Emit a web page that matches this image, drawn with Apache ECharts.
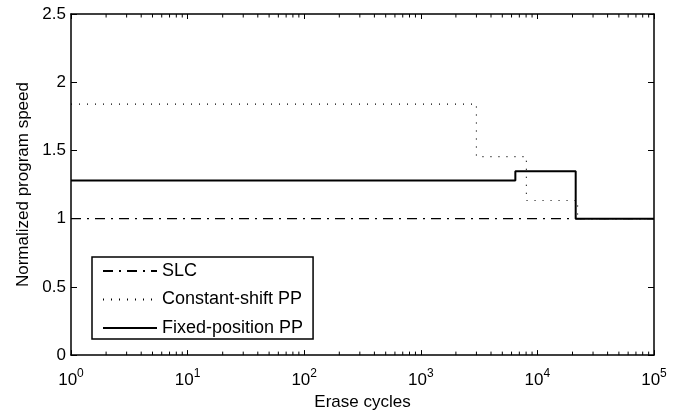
<!DOCTYPE html>
<html>
<head>
<meta charset="utf-8">
<script src="https://cdn.jsdelivr.net/npm/echarts@6/dist/echarts.min.js"></script>
<style>
  html, body { margin: 0; padding: 0; background: #fff; }
  #main { width: 678px; height: 416px; }
</style>
</head>
<body>
<div id="main"></div>
<script>
// step breakpoints (erase cycles) and levels
var slcX = [1, 100000];
var slcY = [1.0, 1.0];
var csX = [1, 3000, 8050, 22100, 100000];
var csY = [1.84, 1.455, 1.133, 1.0, 1.0];
var fpX = [1, 6470, 21300, 100000];
var fpY = [1.279, 1.347, 1.0, 1.0];
var yTicks = [0, 0.5, 1, 1.5, 2, 2.5];
var seriesNames = ['SLC', 'Constant-shift PP', 'Fixed-position PP'];

// minor ticks of the log axis (2..9 in every decade)
var minorTicks = [];
[1, 10, 100, 1000, 10000].forEach(function (d) {
    [2, 3, 4, 5, 6, 7, 8, 9].forEach(function (m) { minorTicks.push(d * m); });
});

function pairs(xs, ys) {
    return xs.map(function (x, i) { return [x, ys[i]]; });
}

var font = 'Liberation Sans, Arial, Helvetica, sans-serif';

document.addEventListener('DOMContentLoaded', function () {
    var myChart = echarts.init(document.getElementById('main'));

    var baseX = {
        type: 'log',
        logBase: 10,
        min: 1,
        max: 100000,
        axisLine: { show: true, onZero: false, lineStyle: { color: '#000', width: 1.5 } },
        axisTick: { show: true, inside: true, length: 5, lineStyle: { color: '#000', width: 1 } },
        splitLine: { show: false }
    };
    var baseY = {
        type: 'value',
        min: 0,
        max: 2.5,
        interval: 0.5,
        axisLine: { show: true, onZero: false, lineStyle: { color: '#000', width: 1.5 } },
        axisTick: { show: true, inside: true, length: 6, lineStyle: { color: '#000', width: 1 } },
        splitLine: { show: false }
    };

    var option = {
        animation: false,
        backgroundColor: '#fff',
        textStyle: { fontFamily: font, color: '#000' },
        grid: { left: 71, right: 24, top: 14, bottom: 60 },
        legend: {
            data: seriesNames,
            orient: 'vertical',
            left: 92,
            top: 257,
            itemWidth: 54,
            itemHeight: 14,
            itemGap: 10.5,
            padding: [5, 10, 2, 10],
            backgroundColor: '#fff',
            borderColor: '#000',
            borderWidth: 1.5,
            borderRadius: 0,
            itemStyle: { color: 'transparent', borderColor: 'transparent', borderWidth: 0 },
            textStyle: { fontFamily: font, fontSize: 18, color: '#000' }
        },
        xAxis: [
            Object.assign({}, baseX, {
                position: 'bottom',
                name: 'Erase cycles',
                nameLocation: 'middle',
                nameGap: 36,
                nameTextStyle: { fontFamily: font, fontSize: 17, color: '#000' },
                axisLabel: {
                    margin: 13,
                    color: '#000',
                    formatter: function (v) {
                        return '{b|10}{s|' + Math.round(Math.log10(v)) + '}';
                    },
                    rich: {
                        b: { fontFamily: font, fontSize: 17, color: '#000' },
                        s: { fontFamily: font, fontSize: 12, color: '#000', padding: [0, 0, 13, 0] }
                    }
                }
            }),
            Object.assign({}, baseX, { position: 'top', axisLabel: { show: false } })
        ],
        yAxis: [
            Object.assign({}, baseY, {
                position: 'left',
                name: 'Normalized program speed',
                nameLocation: 'middle',
                nameGap: 39,
                nameTextStyle: { fontFamily: font, fontSize: 17, color: '#000' },
                axisLabel: {
                    margin: 5,
                    fontFamily: font,
                    fontSize: 17,
                    color: '#000',
                    formatter: function (v) { return yTicks.indexOf(v) >= 0 ? String(v) : ''; }
                }
            }),
            Object.assign({}, baseY, { position: 'right', axisLabel: { show: false } })
        ],
        series: [
            {
                name: 'SLC',
                type: 'line',
                data: pairs(slcX, slcY),
                symbol: 'none',
                lineStyle: { color: '#000', width: 1.2, type: [10, 6, 2, 6] },
                itemStyle: { color: '#000' },
                z: 2
            },
            {
                name: 'Constant-shift PP',
                type: 'line',
                step: 'end',
                data: pairs(csX, csY),
                symbol: 'none',
                lineStyle: { color: '#000', width: 1.2, type: [1, 7] },
                itemStyle: { color: '#000' },
                z: 3
            },
            {
                name: 'Fixed-position PP',
                type: 'line',
                step: 'end',
                data: pairs(fpX, fpY),
                symbol: 'none',
                lineStyle: { color: '#000', width: 2, type: 'solid' },
                itemStyle: { color: '#000' },
                z: 4
            },
            {
                name: 'minor',
                type: 'custom',
                silent: true,
                data: minorTicks.map(function (v) { return [v]; }),
                encode: { x: 0 },
                renderItem: function (params, api) {
                    var v = api.value(0);
                    var b = api.coord([v, 0]);
                    var t = api.coord([v, 2.5]);
                    var st = { stroke: '#000', lineWidth: 1 };
                    return {
                        type: 'group',
                        children: [
                            { type: 'line', shape: { x1: b[0], y1: b[1], x2: b[0], y2: b[1] - 3.5 }, style: st },
                            { type: 'line', shape: { x1: t[0], y1: t[1], x2: t[0], y2: t[1] + 3.5 }, style: st }
                        ]
                    };
                },
                z: 1
            }
        ]
    };

    option && myChart.setOption(option);
});
</script>
</body>
</html>
